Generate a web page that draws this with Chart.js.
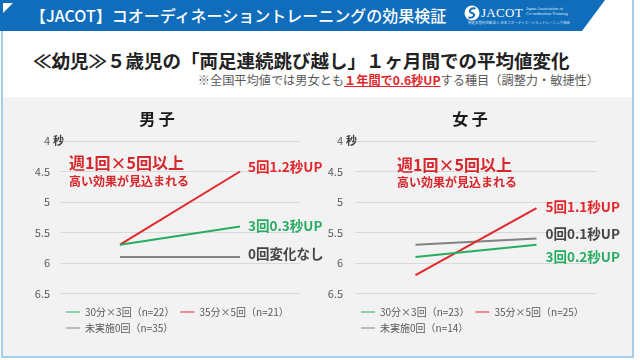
<!DOCTYPE html>
<html lang="ja"><head><meta charset="utf-8">
<script src="https://cdn.jsdelivr.net/npm/chart.js@4.4.1/dist/chart.umd.min.js"></script>
<style>
html,body{margin:0;padding:0;}
body{width:640px;height:360px;position:relative;overflow:hidden;background:#fff;font-family:"Noto Sans CJK JP","Noto Sans",sans-serif;}
#frame{position:absolute;left:1px;top:0;width:629px;height:356px;border:2px solid #a6cdea;border-top:none;}
#panel{position:absolute;left:3px;top:97px;width:629px;height:259px;background:#f2f2f2;}
#hdr{position:absolute;left:0;top:0;width:640px;height:31px;background:#0f6dbb;clip-path:polygon(0 0,605px 0,582px 31px,0 31px);}
#tri{position:absolute;left:3px;top:3px;width:10px;height:10px;background:#fff;clip-path:polygon(0 0,100% 0,0 100%);}
#hdrText{position:absolute;left:30px;top:5px;font-size:16px;color:#fff;font-weight:500;line-height:21px;white-space:nowrap;}
#logoIcon{position:absolute;left:464px;top:5px;}
#logoName{position:absolute;left:481px;top:4px;font-family:"Liberation Serif","DejaVu Serif",serif;font-size:13px;color:#fff;line-height:17px;letter-spacing:0.3px;}
#logoEn{position:absolute;left:526px;top:6px;font-family:"Liberation Serif",serif;font-size:4.5px;line-height:5px;color:#dfeaf6;white-space:nowrap;}
#logoJp{position:absolute;left:468px;top:20px;font-size:3.5px;line-height:5px;color:#dfeaf6;white-space:nowrap;}
#title{position:absolute;left:33px;top:48px;font-size:18.5px;font-weight:bold;color:#222;line-height:25px;white-space:nowrap;}
#sub{position:absolute;right:41px;top:72px;font-size:12.2px;color:#595959;line-height:16px;white-space:nowrap;}
#sub b{color:#e0262b;text-decoration:underline;}
canvas{position:absolute;}
#cMale{left:0;top:100px;}
#cFemale{left:315px;top:100px;}
</style></head>
<body>
<div id="frame"></div>
<div id="panel"></div>
<div id="hdr"></div>
<div id="tri"></div>
<div id="hdrText">【JACOT】コオーディネーショントレーニングの効果検証</div>
<svg id="logoIcon" width="16" height="16" viewBox="0 0 16 16"><circle cx="8" cy="8" r="7.5" fill="#fff"/><path d="M11.5 3.5 C6 2.5 4 7 8 8 C12 9 10 13.5 4.5 12.5" stroke="#0f6dbb" stroke-width="2" fill="none"/></svg>
<div id="logoName">JACOT</div>
<div id="logoEn">Japan Association of<br>Co-ordination Training</div>
<div id="logoJp">特定非営利活動法人 日本コオーディネーショントレーニング協会</div>
<div id="title">≪幼児≫５歳児の「両足連続跳び越し」１ヶ月間での平均値変化</div>
<div id="sub">※全国平均値では男女とも<b>１年間で0.6秒UP</b>する種目（調整力・敏捷性）</div>
<canvas id="cMale" width="330" height="243"></canvas>
<canvas id="cFemale" width="310" height="243"></canvas>
<script>
// ---- data ----
const categories = ['開始時', '1ヶ月後'];
const maleSeriesNames = ['30分×3回（n=22）', '35分×5回（n=21）', '未実施0回（n=35）'];
const femaleSeriesNames = ['30分×3回（n=23）', '35分×5回（n=25）', '未実施0回（n=14）'];
const maleThree = [5.7, 5.4];
const maleFive = [5.7, 4.5];
const maleZero = [5.9, 5.9];
const femaleThree = [5.9, 5.7];
const femaleFive = [6.2, 5.1];
const femaleZero = [5.7, 5.6];
const yMin = 4, yMax = 6.5, yStep = 0.5;
const maleNotes = ['3回0.3秒UP', '5回1.2秒UP', '0回変化なし'];
const femaleNotes = ['3回0.2秒UP', '5回1.1秒UP', '0回0.1秒UP'];
const calloutText = ['週1回×5回以上', '高い効果が見込まれる'];
const unitText = '秒';

// ---- styles ----
const FAM = '"Noto Sans CJK JP","Noto Sans",sans-serif';
const GREEN = '#27ad62', RED = '#e3262b', GRAY = '#828282';
const NOTE_COLORS = [GREEN, RED, '#444444'];

const notesPlugin = {
  id: 'notes',
  afterDatasetsDraw(chart, args, o) {
    const {ctx, chartArea, scales: {y}} = chart;
    ctx.save();
    ctx.textBaseline = 'middle';
    ctx.textAlign = 'left';
    ctx.fillStyle = '#404040';
    ctx.font = 'bold 11px ' + FAM;
    ctx.fillText(unitText, y.right - o.tickPad + 3, y.getPixelForValue(yMin));
    ctx.fillStyle = '#d7262c';
    ctx.font = 'bold 16px ' + FAM;
    ctx.fillText(calloutText[0], chartArea.left + o.cdx, chartArea.top + o.cdy1);
    ctx.font = 'bold 12px ' + FAM;
    ctx.fillText(calloutText[1], chartArea.left + o.cdx, chartArea.top + o.cdy2);
    ctx.font = 'bold 13.5px ' + FAM;
    chart.data.datasets.forEach((ds, i) => {
      const meta = chart.getDatasetMeta(i);
      const pt = meta.data[meta.data.length - 1];
      ctx.fillStyle = NOTE_COLORS[i];
      ctx.fillText(o.notes[i], pt.x + o.ndx, pt.y + o.ndy[i]);
    });
    ctx.restore();
  }
};

function buildChart(id, three, five, zero, names, title, place, notes) {
  return new Chart(document.getElementById(id), {
    type: 'line',
    data: {
      labels: categories,
      datasets: [
        {label: names[0], data: three, borderColor: GREEN, backgroundColor: GREEN},
        {label: names[1], data: five, borderColor: RED, backgroundColor: RED},
        {label: names[2], data: zero, borderColor: GRAY, backgroundColor: GRAY}
      ]
    },
    options: {
      responsive: false, animation: false, devicePixelRatio: 1,
      layout: {padding: {left: place.padL, right: place.padR, top: 0, bottom: 0}},
      elements: {line: {borderWidth: 2, tension: 0}, point: {radius: 0, hoverRadius: 0}},
      scales: {
        x: {display: true, offset: true, grid: {display: false}, border: {display: false},
            ticks: {display: false}, afterFit: s => { s.height = 7.5; }},
        y: {reverse: true, min: yMin, max: yMax,
            ticks: {stepSize: yStep, padding: place.tickPad, color: '#595959', font: {size: 11, family: FAM},
                    callback: v => String(v)},
            grid: {color: '#d9d9d9', drawTicks: false, lineWidth: 1}, border: {display: false},
            afterFit: s => { s.width = place.axisW; }},
        ySpacer: {type: 'linear', position: 'right', display: place.rightW > 0,
            grid: {display: false}, border: {display: false}, ticks: {display: false},
            afterFit: s => { s.width = place.rightW; }}
      },
      plugins: {
        title: {display: true, text: title, color: '#1a1a1a', font: {size: 16, weight: 'bold', family: FAM},
                padding: {top: 9.4, bottom: 12.4}},
        legend: {position: 'bottom', align: 'start', fullSize: false,
                 labels: {usePointStyle: true, pointStyle: 'line', pointStyleWidth: 14, color: '#595959',
                          font: {size: 10, family: FAM}, padding: 6}},
        tooltip: {enabled: false},
        notes: Object.assign({notes: notes, tickPad: place.tickPad}, place.note)
      }
    },
    plugins: [notesPlugin]
  });
}

buildChart('cMale', maleThree, maleFive, maleZero, maleSeriesNames, '男 子',
  {padL: 14, padR: 30, axisW: 46, rightW: 0, tickPad: 10, note: {cdx: 9, cdy1: 22, cdy2: 40, ndx: 8, ndy: [-1, -5, -3]}},
  maleNotes);
buildChart('cFemale', femaleThree, femaleFive, femaleZero, femaleSeriesNames, '女 子',
  {padL: 0, padR: 0, axisW: 40, rightW: 28, tickPad: 12, note: {cdx: 42, cdy1: 24, cdy2: 41, ndx: 9, ndy: [12, -1, -5]}},
  femaleNotes);
</script>
</body></html>
